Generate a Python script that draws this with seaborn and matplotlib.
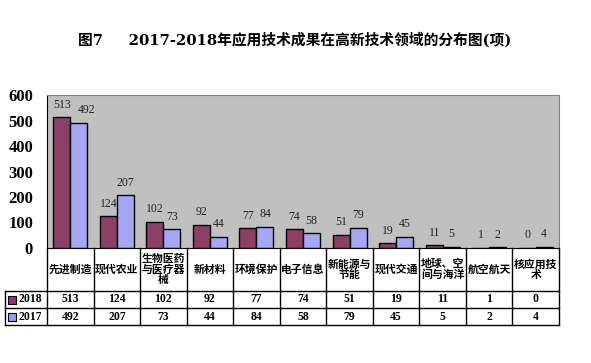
import numpy as np
import pandas as pd
import seaborn as sns
import matplotlib.pyplot as plt

categories = ["先进制造", "现代农业", "生物医药\n与医疗器\n械", "新材料", "环境保护",
              "电子信息", "新能源与\n节能", "现代交通", "地球、空\n间与海洋", "航空航天",
              "核应用技\n术"]
years = ["2018", "2017"]
v2018 = [513, 124, 102, 92, 77, 74, 51, 19, 11, 1, 0]
v2017 = [492, 207, 73, 44, 84, 58, 79, 45, 5, 2, 4]
yticks = [0, 100, 200, 300, 400, 500, 600]
colors = {"2018": "#993366", "2017": "#9999FF"}

df = pd.DataFrame({
    "cat": list(range(len(categories))) * 2,
    "year": ["2018"] * len(v2018) + ["2017"] * len(v2017),
    "value": v2018 + v2017,
})

W, H = 591, 363
fig = plt.figure(figsize=(W / 100, H / 100), dpi=100)

ax = fig.add_axes([47 / W, (H - 248) / H, (559 - 47) / W, (248 - 95) / H])
sns.barplot(data=df, x="cat", y="value", hue="year", hue_order=years,
            palette=colors, width=0.73, gap=0, edgecolor="black", linewidth=1,
            ax=ax, legend=False)
ax.set_facecolor("#C0C0C0")
ax.set_xlim(-0.5, len(categories) - 0.5)
ax.set_ylim(0, 600)
ax.set_yticks(yticks)
ax.set_yticklabels([str(t) for t in yticks], fontfamily="Liberation Serif",
                   fontweight="bold", fontsize=12)
ax.tick_params(axis="y", length=0, pad=10)
ax.set_xticks([])
ax.set_xlabel("")
ax.set_ylabel("")
for s in ["top", "right"]:
    ax.spines[s].set_color("#808080")
ax.spines["left"].set_color("black")
ax.spines["bottom"].set_color("black")

# labels above bars; the first 2017 label sits a little to the right like the original
for k, (cont, vals) in enumerate(zip(ax.containers, [v2018, v2017])):
    for i, (rect, v) in enumerate(zip(cont, vals)):
        dx = 6 if (k == 1 and i == 0) else 0
        ax.annotate(str(v), (rect.get_x() + rect.get_width() / 2, rect.get_height()),
                    xytext=(dx, 9), textcoords="offset points", ha="center", va="center",
                    fontsize=8.5, fontfamily="Liberation Serif", color="#222222")

# data table under the plot
n = len(categories)
unit = (559 - 47) / n
x_left = -0.5 - (47 - 5) / unit
tb = fig.add_axes([5 / W, (H - 325) / H, (559 - 5) / W, (325 - 248) / H])
tb.set_xlim(x_left, n - 0.5)
tb.set_ylim(77, 0)
tb.axis("off")
lw = 1
for y in [43, 60, 77]:
    tb.plot([x_left, n - 0.5], [y, y], color="black", lw=lw, clip_on=False)
tb.plot([x_left, x_left], [43, 77], color="black", lw=lw, clip_on=False)
for i in range(n + 1):
    tb.plot([i - 0.5, i - 0.5], [0, 77], color="black", lw=lw, clip_on=False)

for i, c in enumerate(categories):
    tb.text(i, 21.5, c, ha="center", va="center", fontsize=7.8, fontweight="bold",
            family=["Noto Sans CJK SC"], linespacing=1.05)
for r, (yr, vals) in enumerate(zip(years, [v2018, v2017])):
    yc = 51.5 + r * 17
    for i, v in enumerate(vals):
        tb.text(i, yc, str(v), ha="center", va="center", fontsize=8.5,
                fontweight="bold", family="Liberation Serif")
    tb.scatter([x_left + 0.16], [yc], marker="s", s=40, color=colors[yr],
               edgecolor="black", linewidth=0.8, clip_on=False)
    tb.text(x_left + 0.28, yc, yr, ha="left", va="center", fontsize=8.5,
            fontweight="bold", family="Liberation Serif")

fig.text(78 / W, 1 - 40 / H, "图7     2017-2018年应用技术成果在高新技术领域的分布图(项)",
         ha="left", va="center", fontsize=10.6, fontweight="bold",
         family=["DejaVu Serif", "Noto Sans CJK SC"])

fig.savefig("out.png", dpi=100)
